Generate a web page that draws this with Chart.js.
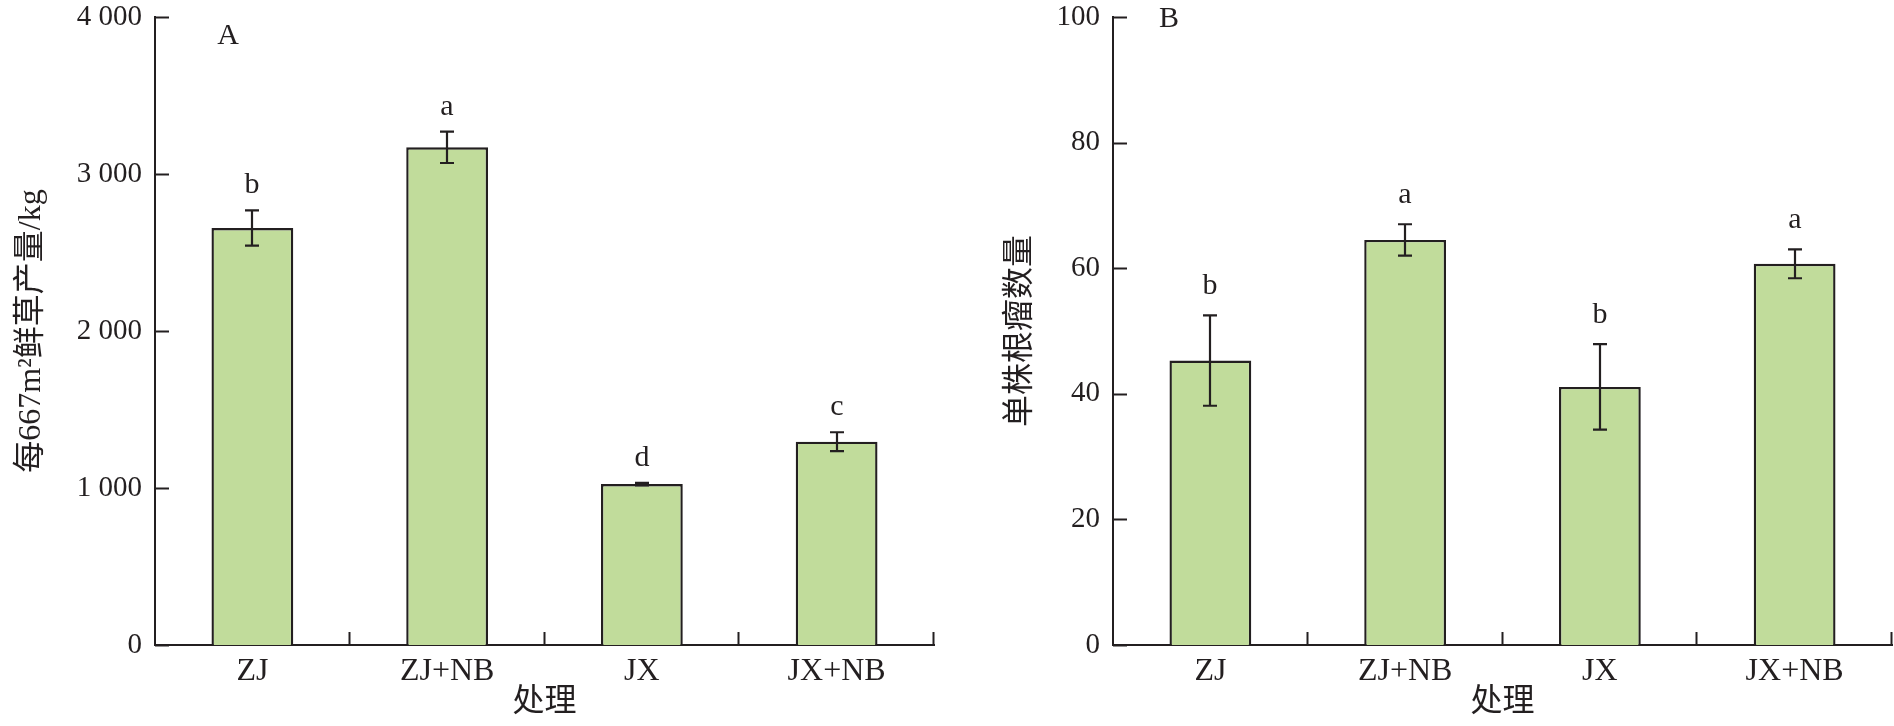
<!DOCTYPE html>
<html>
<head>
<meta charset="utf-8">
<script src="https://cdn.jsdelivr.net/npm/chart.js@4.4.0/dist/chart.umd.min.js"></script>
<style>
    html, body { margin: 0; padding: 0; background: #fff; }
    .panel { position: absolute; top: 0; width: 947px; height: 726px; }
</style>
</head>
<body>
<div class="panel" style="left:0"><canvas id="chartA"></canvas></div>
<div class="panel" style="left:947px"><canvas id="chartB"></canvas></div>
<script>
// data
const categories = ['ZJ', 'ZJ+NB', 'JX', 'JX+NB'];

const yieldMeans = [2656, 3170, 1025, 1295];
const yieldErrors = [112, 100, 8, 60];
const yieldLetters = ['b', 'a', 'd', 'c'];
const yieldTicks = ['0', '1 000', '2 000', '3 000', '4 000'];

const noduleMeans = [45.3, 64.5, 41.1, 60.7];
const noduleErrors = [7.2, 2.5, 6.8, 2.3];
const noduleLetters = ['b', 'a', 'b', 'a'];
const noduleTicks = ['0', '20', '40', '60', '80', '100'];

const ink = '#231f20';
const serif = '"Liberation Serif", "Noto Sans CJK SC", serif';

// inward ticks, error bars, significance letters and the panel letter
const decorPlugin = {
    id: 'decor',
    afterDraw(chart, args, opts) {
        const ctx = chart.ctx;
        const x = chart.scales.x;
        const y = chart.scales.y;
        const area = chart.chartArea;
        ctx.save();
        ctx.strokeStyle = ink;
        ctx.lineWidth = 2;

        // y ticks pointing into the plot
        y.ticks.forEach(t => {
            const py = Math.round(y.getPixelForValue(t.value)) + 0.5;
            ctx.beginPath();
            ctx.moveTo(area.left, py);
            ctx.lineTo(area.left + 14, py);
            ctx.stroke();
        });

        // x ticks between categories, pointing up
        const step = x.getPixelForValue(1) - x.getPixelForValue(0);
        for (let i = 0; i < categories.length; i++) {
            const px = Math.round(x.getPixelForValue(i) + step / 2) - 0.5;
            ctx.beginPath();
            ctx.moveTo(px, area.bottom);
            ctx.lineTo(px, area.bottom - 13);
            ctx.stroke();
        }

        // error bars
        const means = chart.data.datasets[0].data;
        ctx.lineWidth = 2.2;
        means.forEach((m, i) => {
            const e = opts.errors[i];
            const px = Math.round(x.getPixelForValue(i));
            const top = y.getPixelForValue(m + e);
            const bot = y.getPixelForValue(m - e);
            ctx.beginPath();
            ctx.moveTo(px, top);
            ctx.lineTo(px, bot);
            ctx.moveTo(px - 7, top);
            ctx.lineTo(px + 7, top);
            ctx.moveTo(px - 7, bot);
            ctx.lineTo(px + 7, bot);
            ctx.stroke();

            ctx.fillStyle = ink;
            ctx.font = '30px ' + serif;
            ctx.textAlign = 'center';
            ctx.textBaseline = 'alphabetic';
            ctx.fillText(opts.letters[i], px, top - opts.letterGap);
        });

        // panel letter
        ctx.font = '30px ' + serif;
        ctx.textAlign = 'center';
        ctx.textBaseline = 'middle';
        ctx.fillText(opts.panel, area.left + opts.panelDx, area.top + opts.panelDy);
        ctx.restore();
    }
};

function makeChart(id, cfg) {
    const ctx = document.getElementById(id).getContext('2d');
    return new Chart(ctx, {
        type: 'bar',
        data: {
            labels: categories,
            datasets: [{
                data: cfg.means,
                backgroundColor: '#c1dc9b',
                borderColor: ink,
                borderWidth: 2.4,
                borderSkipped: 'start',
                barPercentage: 0.42,
                categoryPercentage: 1
            }]
        },
        options: {
            responsive: true,
            maintainAspectRatio: false,
            animation: false,
            devicePixelRatio: 1,
            layout: { padding: { top: 17, right: cfg.padRight, bottom: 0, left: 0 } },
            plugins: {
                legend: { display: false },
                tooltip: { enabled: false },
                decor: {
                    errors: cfg.errors,
                    letters: cfg.letters,
                    letterGap: cfg.letterGap,
                    panel: cfg.panel,
                    panelDx: cfg.panelDx,
                    panelDy: cfg.panelDy
                }
            },
            scales: {
                x: {
                    grid: { display: false, drawTicks: false },
                    border: { display: true, color: ink, width: 2 },
                    ticks: {
                        color: ink,
                        font: { family: serif, size: 32 },
                        padding: 7
                    },
                    title: {
                        display: true,
                        text: '处理',
                        color: ink,
                        font: { family: serif, size: 32 },
                        padding: { top: 0, bottom: 4 }
                    },
                    afterFit(scale) {
                        scale.height = 81;
                        scale.paddingLeft = 0;
                        scale.paddingRight = 0;
                    }
                },
                y: {
                    min: 0,
                    max: cfg.max,
                    grid: { display: false, drawTicks: false },
                    border: { display: true, color: ink, width: 2 },
                    ticks: {
                        stepSize: cfg.step,
                        color: ink,
                        font: { family: serif, size: 29 },
                        padding: 13,
                        callback: (v, i) => cfg.tickLabels[i]
                    },
                    title: {
                        display: true,
                        text: cfg.yTitle,
                        color: ink,
                        font: { family: serif, size: 32 },
                        padding: { top: cfg.titlePad, bottom: 0 }
                    },
                    afterFit(scale) {
                        scale.width = cfg.axisWidth;
                        scale.paddingTop = 0;
                        scale.paddingBottom = 0;
                    }
                }
            }
        },
        plugins: [decorPlugin]
    });
}

makeChart('chartA', {
    means: yieldMeans,
    errors: yieldErrors,
    letters: yieldLetters,
    tickLabels: yieldTicks,
    max: 4000,
    step: 1000,
    yTitle: '每667m²鲜草产量/kg',
    axisWidth: 155,
    padRight: 13,
    titlePad: 12,
    letterGap: 17,
    panel: 'A',
    panelDx: 73,
    panelDy: 19
});

makeChart('chartB', {
    means: noduleMeans,
    errors: noduleErrors,
    letters: noduleLetters,
    tickLabels: noduleTicks,
    max: 100,
    step: 20,
    yTitle: '单株根瘤数量',
    axisWidth: 166,
    padRight: 2,
    titlePad: 54,
    letterGap: 21,
    panel: 'B',
    panelDx: 56,
    panelDy: 2
});
</script>
</body>
</html>
